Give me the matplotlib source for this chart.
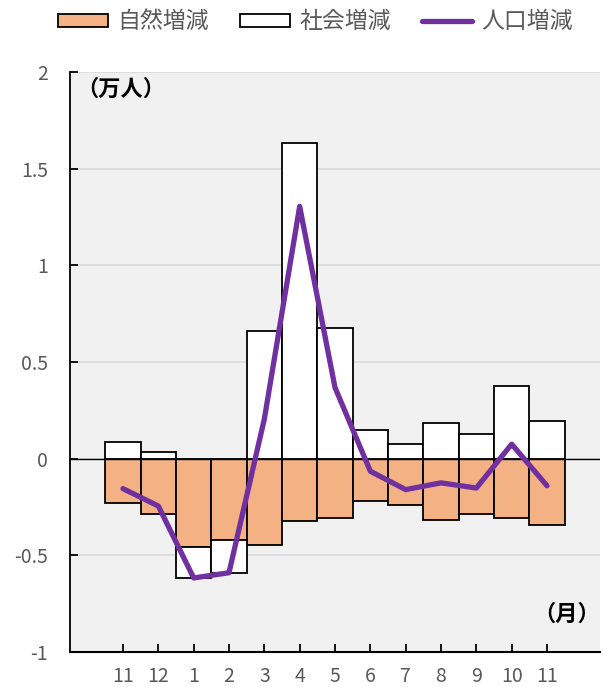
import matplotlib.pyplot as plt
import numpy as np

plt.rcParams['font.family'] = ['Noto Sans CJK JP', 'DejaVu Sans']

# 月ラベル
months = ["11", "12", "1", "2", "3", "4", "5", "6", "7", "8", "9", "10", "11"]
# 自然増減（万人）
natural = [-0.228, -0.285, -0.456, -0.420, -0.446, -0.321, -0.306, -0.218, -0.238, -0.316, -0.285, -0.306, -0.342]
# 社会増減（万人）
social = [0.088, 0.036, -0.161, -0.170, 0.658, 1.632, 0.674, 0.150, 0.078, 0.187, 0.130, 0.378, 0.197]
# 人口増減（万人）
population = [-0.155, -0.245, -0.617, -0.590, 0.205, 1.305, 0.368, -0.065, -0.160, -0.125, -0.152, 0.075, -0.140]

orange = "#f4b183"
purple = "#7030a0"
gray_text = "#595959"

fig = plt.figure(figsize=(6.03, 6.87), dpi=100)
ax = fig.add_axes([70 / 603, 35 / 687, 530 / 603, 580 / 687])
ax.set_facecolor("#f1f1f1")

x = np.arange(len(months))
nat = np.array(natural)
soc = np.array(social)
# 社会増減がマイナスの月は自然増減の下に積む
soc_bottom = np.where(soc < 0, nat, 0)

b1 = ax.bar(x, nat, width=1.0, color=orange, edgecolor="black", linewidth=1.3, zorder=3)
b2 = ax.bar(x, soc, width=1.0, bottom=soc_bottom, color="white", edgecolor="black", linewidth=1.3, zorder=3)
ln, = ax.plot(x, population, color=purple, linewidth=3.8, zorder=5, solid_capstyle="round")

ax.axhline(0, color="black", linewidth=1.0, zorder=4)

ax.set_xlim(-1.5, 13.5)
ax.set_ylim(-1, 2)
ax.set_yticks([-1, -0.5, 0, 0.5, 1, 1.5, 2])
ax.set_yticklabels(["-1", "-0.5", "0", "0.5", "1", "1.5", "2"])
ax.set_xticks(x)
ax.set_xticklabels(months)

ax.grid(axis="y", color="#d9d9d9", linewidth=1.2, zorder=0)
ax.set_axisbelow(True)

for s in ["top", "right"]:
    ax.spines[s].set_visible(False)
ax.spines["left"].set_linewidth(1.3)
ax.spines["bottom"].set_linewidth(1.5)

ax.tick_params(axis="y", direction="in", length=6, width=1.3, pad=16, labelsize=14, labelcolor=gray_text)
ax.tick_params(axis="x", direction="in", length=6, width=1.3, pad=10, labelsize=14, labelcolor=gray_text)

ax.text(0.012, 0.99, "（万人）", transform=ax.transAxes, fontsize=16, fontweight="bold",
        ha="left", va="top", color="black")
ax.text(1.0, 0.0655, "（月）", transform=ax.transAxes, fontsize=16, fontweight="bold",
        ha="right", va="center", color="black")

fig.legend([b1, b2, ln], ["自然増減", "社会増減", "人口増減"],
           loc="upper center", bbox_to_anchor=(0.523, 1.015), ncol=3, frameon=False,
           fontsize=16.5, handlelength=2.2, handleheight=0.5, columnspacing=1.35, handletextpad=0.4,
           labelcolor=gray_text)

fig.savefig("out.png", dpi=100, facecolor="white")
